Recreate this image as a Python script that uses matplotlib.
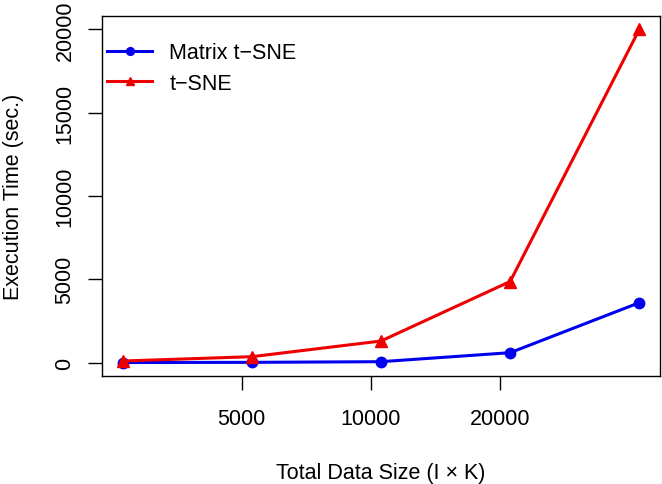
import numpy as np
import matplotlib
matplotlib.use("Agg")
import matplotlib.pyplot as plt

plt.rcParams['font.family'] = ['Liberation Sans', 'DejaVu Sans']

# data
data_size = [2640, 5280, 10560, 21120, 42240]
matrix_tsne = [10, 20, 60, 600, 3600]
tsne = [100, 360, 1300, 4870, 20000]
x_ticks = [5000, 10000, 20000]
y_ticks = [0, 5000, 10000, 15000, 20000]

fig = plt.figure(figsize=(6.62, 4.85), dpi=100)
ax = fig.add_axes([0.154, 0.223, 0.843, 0.742])

ax.plot(data_size, matrix_tsne, color="#0000ee", lw=2.2, marker="o", ms=7.5,
        label="Matrix t\u2212SNE")
ax.plot(data_size, tsne, color="#ee0000", lw=2.2, marker="^", ms=8.5,
        label="t\u2212SNE")

ax.set_xscale("log")
ax.margins(x=0.04, y=0.04)
ax.set_xticks(x_ticks)
ax.set_xticklabels([str(t) for t in x_ticks])
ax.minorticks_off()
ax.set_yticks(y_ticks)
ax.set_yticklabels([str(t) for t in y_ticks], rotation=90, va="center")

ax.tick_params(axis="both", direction="out", length=10, width=1, labelsize=15.5)
ax.tick_params(axis="x", pad=13)
ax.tick_params(axis="y", pad=9)
for s in ax.spines.values():
    s.set_linewidth(1)

ax.set_xlabel("Total Data Size (I \u00d7 K)", fontsize=15.5, labelpad=24)
ax.set_ylabel("Execution Time (sec.)", fontsize=15.5, labelpad=22)

ax.legend(loc="upper left", bbox_to_anchor=(-0.018, 0.969), frameon=False,
          fontsize=15.5, handlelength=2.1, markerscale=0.75,
          borderaxespad=0.3, handletextpad=0.8, labelspacing=0.45)

fig.savefig("out.png", dpi=100)
